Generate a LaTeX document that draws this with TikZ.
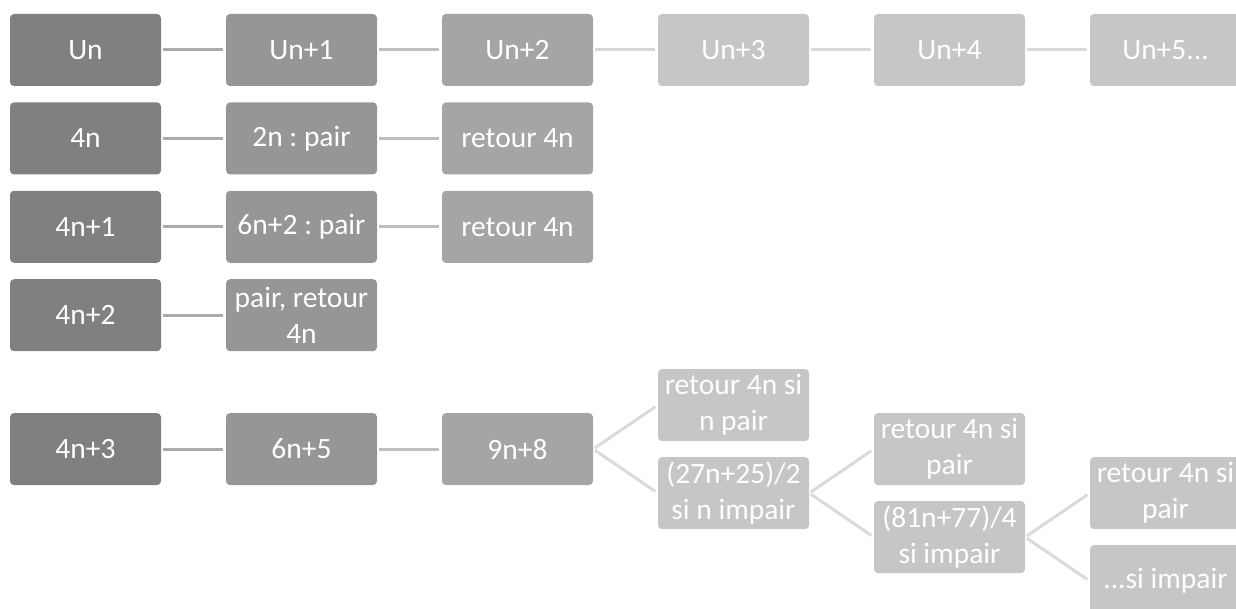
\documentclass[tikz,border=0pt]{standalone}
\usepackage{fontspec}
\setmainfont{Carlito}
\usepackage{tikz}
\usetikzlibrary{positioning}
\frenchspacing
\definecolor{greyA}{HTML}{808080}
\definecolor{greyB}{HTML}{969696}
\definecolor{greyC}{HTML}{A5A5A5}
\definecolor{greyD}{HTML}{C6C6C6}
\definecolor{lineA}{HTML}{ABABAB}
\definecolor{lineB}{HTML}{C0C0C0}
\definecolor{lineC}{HTML}{D6D6D6}
\definecolor{lineD}{HTML}{DADADA}
\tikzset{
  cell/.style={rounded corners=4pt, minimum width=151pt, minimum height=72pt, inner sep=0pt, align=center, text=white, font=\fontsize{29.5}{36}\selectfont},
  cellA/.style={cell, fill=greyA},
  cellB/.style={cell, fill=greyB},
  cellC/.style={cell, fill=greyC},
  cellD/.style={cell, fill=greyD},
  link/.style={line width=3pt, shorten <=2pt, shorten >=3pt}
}

\begin{document}
\begin{tikzpicture}[x=1pt, y=1pt, node distance=16pt and 64.6pt]
  \clip (0,0) rectangle (1236,-609);
  % first row
  \node[cellA] (u0) at (85.5,-50) {Un};
  \node[cellB, right=of u0] (u1) {Un+1};
  \node[cellC, right=of u1] (u2) {Un+2};
  \node[cellD, right=of u2] (u3) {Un+3};
  \node[cellD, right=of u3] (u4) {Un+4};
  \node[cellD, right=of u4] (u5) {Un+5...};

  % cases 4n, 4n+1, 4n+2
  \node[cellA, below=of u0] (a0) {4n};
  \node[cellB, right=of a0] (a1) {2n : pair};
  \node[cellC, right=of a1] (a2) {retour 4n};
  \node[cellA, below=of a0] (b0) {4n+1};
  \node[cellB, right=of b0] (b1) {6n+2 : pair};
  \node[cellC, right=of b1] (b2) {retour 4n};
  \node[cellA, below=of b0] (c0) {4n+2};
  \node[cellB, right=of c0] (c1) {pair, retour\\4n};

  % case 4n+3
  \node[cellA, below=61.5pt of c0] (d0) {4n+3};
  \node[cellB, right=of d0] (d1) {6n+5};
  \node[cellC, right=of d1] (d2) {9n+8};
  \node[cellD, right=of d2, yshift=44pt] (e1) {retour 4n si\\n pair};
  \node[cellD, right=of d2, yshift=-44pt] (e2) {(27n+25)/2\\si n impair};
  \node[cellD, right=of e2, yshift=44pt] (f1) {retour 4n si\\pair};
  \node[cellD, right=of e2, yshift=-44pt] (f2) {(81n+77)/4\\si impair};
  \node[cellD, right=of f2, yshift=44pt] (g1) {retour 4n si\\pair};
  \node[cellD, right=of f2, yshift=-44pt] (g2) {...si impair};

  \draw[link, lineA] (u0) -- (u1);
  \draw[link, lineB] (u1) -- (u2);
  \draw[link, lineC] (u2) -- (u3);
  \draw[link, lineD] (u3) -- (u4);
  \draw[link, lineD] (u4) -- (u5);

  \draw[link, lineA] (a0) -- (a1);
  \draw[link, lineB] (a1) -- (a2);
  \draw[link, lineA] (b0) -- (b1);
  \draw[link, lineB] (b1) -- (b2);
  \draw[link, lineA] (c0) -- (c1);

  \draw[link, lineA] (d0) -- (d1);
  \draw[link, lineB] (d1) -- (d2);
  \draw[link, lineD] (d2.east) -- (e1.west);
  \draw[link, lineD] (d2.east) -- (e2.west);
  \draw[link, lineD] (e2.east) -- (f1.west);
  \draw[link, lineD] (e2.east) -- (f2.west);
  \draw[link, lineD] (f2.east) -- (g1.west);
  \draw[link, lineD] (f2.east) -- (g2.west);
\end{tikzpicture}
\end{document}
